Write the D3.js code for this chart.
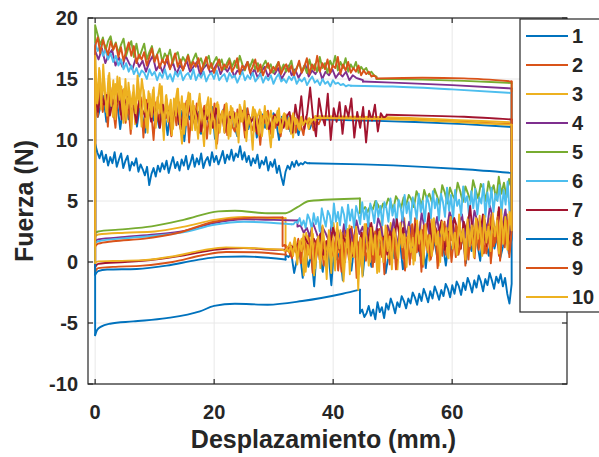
<!DOCTYPE html>
<html>
<head>
<meta charset="utf-8">
<script src="https://cdn.jsdelivr.net/npm/d3@7"></script>
<style>
html,body{margin:0;padding:0;background:#fff;}
svg{display:block;}
text{font-family:"Liberation Sans",Arial,Helvetica,sans-serif;font-weight:bold;fill:#262626;}
</style>
</head>
<body>
<svg id="chart" width="599" height="457"></svg>
<script>
// ---------------- DATA ----------------
const seriesNames = ["1","2","3","4","5","6","7","8","9","10"];
const seriesColors = ["#0072BD","#D95319","#EDB120","#7E2F8E","#77AC30","#4DBEEE","#A2142F","#0072BD","#D95319","#EDB120"];
const xTicks = [0,20,40,60];
const yTicks = [-10,-5,0,5,10,15,20];
const xLabel = "Desplazamiento (mm.)";
const yLabel = "Fuerza (N)";
const reversalX = 70;

// forward stroke, noisy part: samples from x=0 to upperNoiseEnd
const upperNoiseEnd = [37, 38, 37, 45, 47.3, 43, 49, 36, 47.3, 37];
const upperNoise = [
 [13.2,11.9,12.8,13.6,11.5,12.4,13.1,11.8,12.9,10.9,12.6,13.3,11.7,12.2,13.0,11.1,12.7,11.9,10.6,12.8,13.2,11.6,12.3,11.0,12.9,12.1,10.4,12.5,11.8,13.0,11.3,12.4,9.9,12.2,11.7,12.8,11.0,12.3,10.5,12.6,11.9,11.2,12.7,10.1,12.0,11.6,12.5,10.8,11.9,12.4,11.1,10.3,12.2,11.7,12.6,10.9,11.8,12.3,10.2,11.5,12.1,11.0,11.8,10.6,12.2,11.4,10.0,11.9,11.3,12.0,10.7,11.6,11.2,10.4,11.8,11.1,11.6,10.9,11.5,11.7],
 [13.6,11.9,14.7,12.3,13.9,11.1,14.3,12.7,11.0,13.8,12.1,14.1,11.4,13.0,10.5,13.6,11.8,12.9,13.5,10.2,13.3,12.0,12.5,10.0,13.1,11.5,12.8,10.7,13.4,11.9,10.3,12.7,11.2,13.1,10.9,12.3,13.2,9.8,12.6,11.5,13.0,10.6,12.0,12.8,10.1,12.4,11.3,13.0,9.7,12.1,11.6,12.9,10.4,12.3,11.1,10.7,12.5,11.5,12.0,10.2,12.6,11.3,10.8,12.2,11.7,9.6,12.0,11.4,12.4,10.5,11.9,11.0,12.3,10.3,11.7,12.1,10.9,11.5,12.0,10.6,11.8,11.2,10.4,11.9,11.4,11.7,10.8,11.6,11.3,11.8],
 [14.9,12.6,15.7,13.1,15.0,12.3,15.3,13.7,11.9,14.6,13.0,15.1,12.5,14.2,11.6,14.7,12.8,13.9,11.3,14.3,12.7,15.0,13.6,11.0,14.0,12.4,14.1,11.5,13.5,12.2,14.4,10.7,13.7,12.1,13.3,10.9,13.0,14.2,11.8,13.6,10.5,12.7,13.9,12.0,13.2,10.8,12.5,13.8,11.4,9.5,12.9,11.6,13.4,11.0,12.6,13.1,10.6,12.3,11.2,13.0,10.1,12.8,11.7,12.2,10.4,12.9,11.5,12.4,9.9,12.1,11.3,12.7,10.7,11.9,12.5,10.3,11.8,12.3,11.0,9.4,12.0,11.6,12.4,10.6,11.7,12.2,10.9,11.5,12.0,10.2,11.8,11.3,10.8,11.9,11.1,11.7,10.9,11.6,11.8,11.9],
 [17.3,16.6,17.5,16.3,17.0,17.4,16.1,16.8,16.0,16.9,16.3,15.8,16.7,16.0,16.5,15.6,16.4,16.9,15.7,16.2,15.5,16.6,15.9,16.3,15.4,16.1,15.8,16.5,15.6,16.0,16.4,15.3,15.9,16.2,15.5,15.8,16.3,15.4,16.0,15.6,16.1,15.2,15.7,15.5,15.9,16.4,15.3,15.8,15.1,15.6,16.0,15.2,15.7,15.4,15.9,15.0,15.5,16.1,15.3,15.8,15.1,15.6,16.2,15.2,15.7,15.4,15.9,15.0,15.6,15.3,15.8,15.1,15.5,15.2,15.6,14.9,15.3,15.1,15.0,14.9],
 [19.4,18.6,17.8,18.4,17.3,18.1,18.5,17.4,18.0,17.1,17.8,18.3,16.9,17.6,18.1,16.8,17.9,16.7,17.3,17.9,16.6,17.2,17.7,16.5,17.0,17.5,16.4,17.1,16.7,17.4,16.3,16.9,17.2,16.2,16.8,16.4,17.0,16.1,16.6,17.1,16.3,16.7,16.0,16.5,16.9,15.9,16.4,16.8,16.1,16.6,15.8,16.3,16.7,16.0,16.5,15.9,16.9,16.2,15.7,16.4,16.0,16.6,15.8,16.3,15.6,16.1,16.5,15.9,16.2,15.5,16.0,16.4,15.7,16.2,15.6,16.0,16.5,15.4,15.9,16.3,15.6,16.1,15.5,16.6,15.8,16.2,15.6,16.8,15.9,16.3,15.5,16.5,16.0,16.9,15.7,16.4,15.9,16.7,15.6,16.2,15.8,16.4,15.5,16.0,15.7,15.9,15.4,15.6,15.3,15.2],
 [17.9,17.3,17.7,16.9,17.4,16.6,17.1,16.4,16.9,16.1,16.6,15.8,16.3,15.6,16.1,15.4,15.9,15.2,15.7,15.5,15.0,15.8,15.3,15.6,14.9,15.5,15.1,15.8,15.0,15.4,14.8,15.6,15.2,15.7,14.9,15.3,15.5,15.0,15.8,14.9,15.4,15.1,15.6,14.8,15.3,15.5,15.0,15.7,14.9,15.2,15.4,14.8,15.5,15.1,15.3,14.7,15.2,15.6,14.9,15.3,15.0,15.5,14.8,15.1,15.4,14.7,15.2,14.9,15.3,14.6,15.1,15.4,14.8,15.0,14.7,15.2,14.9,15.3,14.6,15.0,14.8,15.1,14.5,14.9,15.2,14.7,14.9,14.5,15.0,14.6,14.8,14.4,14.9,14.6,14.7,14.5,14.6,14.4,14.5,14.45],
 [13.6,12.3,14.1,12.9,13.7,12.0,13.3,12.6,13.9,11.7,13.0,13.5,12.1,12.8,11.4,13.2,12.5,11.9,13.0,11.5,12.7,12.2,11.0,12.9,11.8,12.4,11.2,12.6,12.0,10.9,12.3,11.6,12.8,11.3,12.5,11.9,10.7,12.4,11.7,12.1,11.0,12.6,11.4,12.2,10.6,12.0,11.8,12.3,11.1,11.7,12.4,10.8,12.1,11.5,11.9,10.5,12.0,11.3,11.8,10.9,11.6,12.1,11.2,11.7,11.0,11.9,12.3,10.6,12.9,11.4,13.6,10.9,12.2,14.3,11.8,10.3,13.4,12.0,11.2,13.8,10.0,12.6,11.5,13.1,10.5,12.8,11.9,13.4,10.2,12.3,11.0,12.7,9.8,12.4,11.6,12.9,10.7,12.2,11.8,12.0],
 [9.7,9.0,8.5,9.1,8.2,8.8,7.9,8.6,8.1,9.0,7.8,8.4,8.9,7.7,8.3,8.7,7.5,8.2,7.9,8.5,7.4,8.0,7.6,7.1,7.8,6.3,7.2,7.7,7.0,7.9,7.4,8.1,7.6,8.3,7.3,8.0,8.6,7.7,8.2,7.5,8.4,7.9,8.7,7.6,8.1,8.8,7.8,8.5,8.0,8.9,7.7,8.3,8.6,7.9,9.0,8.2,8.7,8.0,8.5,9.1,8.1,8.8,8.4,9.2,8.3,8.9,8.6,9.5,8.4,9.0,8.2,8.7,7.9,8.5,8.1,8.8,7.7,8.3,8.0,8.6,7.5,8.2,7.8,8.4,7.3,7.9,7.0,6.3,7.4,7.9,7.6,8.2,7.8,8.3,7.9,8.1,8.0,8.2,8.1,8.1],
 [17.7,18.4,17.1,18.2,17.6,17.0,18.1,17.4,17.9,16.8,17.6,16.5,17.3,18.0,16.9,17.7,16.3,17.0,16.6,17.2,16.1,16.8,17.5,16.4,17.0,15.9,16.6,16.2,16.9,15.8,16.5,17.1,16.0,16.6,15.7,16.3,16.9,15.9,16.4,16.0,16.7,15.6,16.2,16.8,15.8,16.3,15.5,16.1,16.6,15.7,16.2,15.9,16.5,15.6,16.0,16.7,15.4,16.1,15.8,16.4,15.5,16.0,16.6,15.6,16.2,15.3,15.9,16.3,15.5,16.0,15.7,16.4,15.4,15.9,16.2,15.6,16.1,15.3,15.8,16.5,15.5,16.0,16.7,15.4,16.2,15.7,16.9,15.6,16.3,15.8,16.6,15.5,16.1,15.9,16.8,15.4,16.2,15.7,16.4,15.5,15.9,15.6,16.1,15.3,15.7,15.4,15.6,15.2,15.3,15.1],
 [16.9,13.0,15.9,12.5,16.2,13.6,12.0,15.5,12.8,14.9,11.7,15.2,13.3,14.4,11.4,15.0,12.6,14.0,10.9,14.5,12.2,15.3,13.7,11.1,14.1,12.9,10.6,13.8,11.9,14.3,11.0,13.2,14.6,12.4,10.0,13.6,11.5,12.9,10.4,13.4,12.0,14.2,11.3,9.7,13.0,11.2,12.5,13.8,10.8,12.8,11.7,10.1,13.1,12.3,11.0,12.6,13.5,10.5,12.1,11.6,9.3,12.9,11.4,12.4,10.6,13.0,11.8,10.3,12.6,11.1,12.2,9.8,12.7,11.5,13.2,10.7,12.0,11.3,9.2,12.5,11.9,10.4,12.3,11.0,12.8,10.9,11.7,12.4,10.2,11.9,11.4,12.6,10.6,11.5,12.1,11.0,11.8,10.5,12.2,11.3,11.7,10.9,11.9,11.2,11.6,11.4,11.8,11.5,11.7,11.6]
];

// forward stroke, smooth part: [x, y] knots up to the reversal
const upperSmooth = [
 [[37,11.7],[45,11.6],[55,11.45],[62,11.3],[70,11.07]],
 [[38,11.85],[50,11.75],[60,11.55],[70,11.3]],
 [[37,11.95],[50,11.85],[60,11.65],[70,11.45]],
 [[45,14.8],[50,14.7],[60,14.5],[70,14.22]],
 [[47.3,15.0],[55,14.95],[62,14.85],[70,14.67]],
 [[43,14.45],[50,14.38],[60,14.15],[70,13.85]],
 [[49,12.07],[55,12.0],[62,11.9],[70,11.68]],
 [[36,8.1],[45,8.0],[55,7.8],[62,7.6],[70,7.3]],
 [[47.3,15.05],[55,15.1],[62,15.05],[70,14.8]],
 [[37,11.8],[50,11.7],[60,11.5],[70,11.25]]
];

// return stroke, noisy part: samples from x=70 back to lowerNoiseStart
const lowerNoiseStart = [32, 32, 32, 34, 44.5, 33, 33, 44.5, 31.5, 31.5];
const lowerNoise = [
 [1.9,0.7,2.5,1.3,0.3,2.1,1.1,2.7,0.5,1.7,2.3,0.1,1.5,2.4,0.9,1.8,-0.1,2.0,1.2,0.6,2.2,1.0,1.6,-0.3,1.4,2.1,0.4,1.7,0.8,1.9,-0.5,1.3,0.5,1.8,0.2,1.5,2.0,0.7,-0.6,1.6,1.0,0.3,1.9,0.6,-0.9,1.2,1.6,0.0,1.4,-0.4,0.9,1.5,-1.1,1.0,0.4,1.3,-0.7,0.8,1.6,-1.5,0.9,0.2,1.2,-1.9,0.7,1.1,-0.8,0.5,1.3,-2.0,0.6,-0.4,1.0,-1.3,0.8,0.2,-0.9,0.7,0.4,0.6],
 [2.7,0.9,3.6,1.7,3.1,0.5,2.9,1.3,3.9,2.0,0.7,3.2,2.3,1.0,3.5,1.6,2.8,0.2,2.5,3.3,1.1,2.1,0.4,3.0,1.8,3.4,0.6,1.9,2.7,-0.1,2.3,1.4,3.1,0.8,2.0,-0.4,2.5,1.2,3.6,0.3,2.8,1.0,-0.7,1.9,2.6,0.5,1.6,3.0,-0.2,2.2,1.1,0.4,2.7,1.7,0.0,2.4,1.3,3.1,0.6,1.8,-0.5,2.3,1.0,2.9,0.2,1.5,2.6,-0.8,1.9,1.2,0.5,2.4,0.9,1.7,-0.3,2.1,1.4,0.3,1.8,1.0,2.2,0.6,1.5,-0.1,1.9,0.8,1.3,0.5,1.1,1.4],
 [3.0,0.8,3.9,1.6,3.3,0.5,4.1,1.9,2.7,0.3,3.6,1.4,3.0,0.7,3.8,2.1,1.0,3.2,1.7,3.7,0.2,2.8,1.5,3.4,0.6,2.5,1.9,4.0,0.4,2.3,1.2,3.1,-0.3,2.6,1.7,3.5,0.1,2.0,2.9,0.6,3.3,1.3,2.4,-0.2,3.0,1.8,0.9,3.6,1.1,2.2,-0.6,2.8,1.5,3.2,0.3,2.1,1.0,3.4,-0.8,2.5,1.4,2.9,0.0,1.8,3.1,0.5,2.3,-1.0,2.7,1.6,0.4,3.0,1.2,2.0,-0.4,2.6,0.8,1.9,3.2,-0.9,2.2,1.3,0.2,2.7,1.0,1.8,-0.5,2.3,0.7,1.5,2.4,-1.1,1.9,1.2,0.5,2.0,0.9,1.6,1.1,1.3],
 [3.7,2.2,4.3,2.9,4.0,1.9,3.5,4.6,2.6,3.8,1.7,3.3,4.2,2.3,3.6,2.0,3.9,2.8,1.5,3.4,4.1,2.4,3.1,1.6,3.7,2.5,1.3,3.2,2.7,4.0,1.8,2.9,1.2,3.3,2.1,3.8,2.6,1.4,3.5,2.2,3.0,1.1,2.8,3.6,1.9,2.5,3.2,1.6,2.9,2.3,3.4,1.5,2.7,2.0,3.1,1.3,2.6,2.2,3.0,1.8,2.4,2.9,1.7,2.5,3.2,2.1,2.8,2.4,3.0,2.9],
 [6.0,6.8,5.3,6.5,5.6,7.0,5.1,6.3,5.7,6.6,5.0,6.0,6.4,5.2,5.9,6.7,5.0,5.6,6.2,4.9,5.8,6.5,5.1,5.5,6.1,4.8,5.7,6.3,4.7,5.4,6.0,4.9,5.6,5.2,5.9,4.6,5.3,5.8,4.5,5.1,5.5,4.7,5.3,4.4,5.0,5.4,4.3,4.9,5.2,4.5,4.8,4.2,4.7,5.0,4.3,4.6,4.1,4.5,4.2,4.0],
 [5.5,4.0,6.6,4.7,5.9,3.9,6.3,5.0,5.6,4.1,6.1,4.5,5.7,3.7,6.4,4.8,5.3,3.9,6.0,4.4,5.8,3.6,5.4,4.9,6.2,3.8,5.1,4.6,5.9,3.5,5.5,4.2,6.1,3.7,4.9,5.6,3.4,5.2,4.4,5.8,3.6,4.8,5.4,3.3,5.0,4.1,5.6,3.5,4.6,5.3,3.2,4.9,4.0,5.5,3.4,4.5,5.1,3.1,4.7,3.8,5.2,3.3,4.4,4.9,3.0,4.6,3.7,5.0,3.2,4.2,4.8,2.9,4.4,3.5,4.9,3.1,4.0,4.6,2.8,4.3,3.4,4.7,2.7,3.9,4.5,3.0,4.1,3.3,4.8,2.6,3.8,4.2,2.9,3.6,4.4,2.5,3.7,3.1,4.0,2.7,3.5,3.9,2.8,3.4,3.0,3.6,3.2,3.3,3.1,3.1],
 [2.9,1.6,3.7,2.3,4.5,1.9,3.1,2.6,1.3,3.9,2.1,3.0,1.5,4.6,2.4,3.3,1.1,2.7,3.6,1.8,2.5,1.0,3.4,2.2,2.9,1.4,4.0,2.0,2.6,0.9,3.1,1.7,2.3,0.7,2.8,1.9,3.5,1.2,2.5,0.6,2.1,1.5,2.7,1.1,3.2,1.8,0.8,2.4,1.3,2.0,0.5,2.6,1.6,2.2,1.0,1.9,2.8,1.2,1.7,0.6,2.3,1.4,1.9,0.9,1.6,2.1,1.2,1.5,1.1,1.3],
 [-1.8,-3.4,-2.6,-1.3,-2.0,-1.0,-1.7,-1.2,-2.2,-1.5,-0.9,-1.9,-1.4,-2.4,-1.6,-1.1,-2.1,-1.5,-2.5,-1.8,-1.3,-2.3,-1.7,-2.7,-2.0,-1.6,-2.6,-1.9,-2.9,-2.2,-1.8,-2.8,-2.3,-3.1,-2.5,-2.0,-3.0,-2.4,-3.3,-2.7,-2.2,-3.2,-2.6,-3.5,-2.9,-2.5,-3.4,-3.0,-3.8,-3.2,-2.8,-3.7,-3.3,-4.2,-3.5,-3.0,-3.9,-3.4,-4.6,-3.7,-4.1,-3.3,-4.7,-3.9,-4.4,-3.6,-4.2,-4.5,-3.9,-4.2],
 [2.5,0.4,3.4,1.2,2.9,0.1,3.7,1.6,2.3,-0.1,3.1,1.9,0.7,2.8,1.4,3.5,0.3,2.1,1.1,3.2,-0.3,2.6,1.5,0.6,3.0,1.8,0.0,2.4,1.3,3.3,0.5,2.0,-0.5,2.7,1.1,0.2,2.2,1.6,3.0,-0.8,2.5,0.8,1.7,3.1,-0.2,2.1,1.0,0.3,2.6,1.4,-0.6,2.3,0.9,1.8,2.8,-1.0,2.0,0.6,1.5,2.5,-0.4,1.9,1.2,0.1,2.4,0.8,1.6,-1.3,2.2,0.7,1.3,2.6,0.0,1.8,1.0,-0.7,2.1,0.5,1.4,2.3,-0.3,1.7,0.9,0.2,1.9,1.1,-0.9,1.6,0.6,1.3,2.0,0.4,1.5,0.8,1.1,0.3,1.2,0.9,1.4,1.3],
 [2.6,4.1,1.0,3.7,1.5,4.3,0.7,3.4,2.1,4.0,0.9,2.9,1.6,3.8,0.5,3.2,1.9,3.6,0.4,3.0,1.3,3.5,0.2,2.7,1.7,3.9,0.6,2.4,1.1,3.7,0.3,2.8,1.8,3.3,0.0,2.5,1.4,3.6,0.5,2.2,1.0,3.1,-0.2,2.6,1.5,3.4,0.1,2.0,0.8,2.9,-0.4,2.3,1.2,3.2,0.3,1.9,2.7,-0.6,2.1,0.9,3.0,0.0,1.7,2.5,-0.9,2.2,0.6,2.8,-0.3,1.8,3.1,-1.2,2.0,-2.3,2.9,0.4,1.6,-1.0,2.7,0.8,-1.6,2.4,1.1,3.2,-0.7,1.9,0.2,2.6,-1.4,1.5,3.0,-0.5,2.1,0.7,-1.1,2.8,0.3,1.4,-0.8,2.3,0.9,1.7,-0.2,1.9,0.5,1.3,0.8,1.1,0.9,1.0]
];

// return stroke, smooth part: [x, y] knots from x=0 to lowerNoiseStart
const lowerSmooth = [
 [[0,-1.05],[0.5,-0.75],[2,-0.62],[7,-0.57],[12,-0.3],[17,0.15],[21,0.42],[25,0.45],[32,0.2]],
 [[0,-0.77],[0.5,-0.5],[3,-0.4],[8,-0.3],[13,0.0],[18,0.55],[22,0.82],[27,0.8],[32,0.6]],
 [[0,2.1],[0.5,2.25],[5,2.4],[10,2.5],[15,2.9],[20,3.45],[25,3.7],[30,3.6],[32,3.6]],
 [[0,1.69],[0.5,1.85],[5,2.05],[10,2.25],[15,2.55],[20,3.2],[25,3.5],[30,3.45],[34,3.4]],
 [[0,2.38],[0.5,2.5],[3.9,2.65],[9.5,2.92],[15,3.47],[20.7,4.15],[23.5,4.2],[29,4.0],[32,4.0],[34,4.5],[36,5.0],[44.5,5.2]],
 [[0,1.55],[0.5,1.7],[5,1.95],[10,2.15],[15,2.45],[20,3.05],[25,3.3],[30,3.2],[33,3.1]],
 [[0,-0.4],[0.5,-0.15],[5,0.0],[10,0.2],[15,0.55],[20,1.0],[25,1.15],[30,1.0],[33,1.0]],
 [[0,-6.0],[0.3,-5.6],[1,-5.3],[2.5,-5.06],[6.4,-4.87],[12,-4.6],[17.6,-4.05],[20,-3.6],[23.5,-3.42],[29,-3.5],[34.8,-3.2],[38,-2.95],[41.6,-2.6],[44.5,-2.27]],
 [[0,1.28],[0.5,1.5],[3,1.7],[8,1.9],[14,2.4],[20,3.3],[25,3.6],[30,3.66],[31.5,3.66]],
 [[0,-0.08],[0.5,0.05],[3,0.08],[8,0.15],[13,0.45],[18,0.95],[22,1.2],[26,1.15],[31.5,1.0]]
];

// ---------------- CHART ----------------
const svg = d3.select("#chart");
const plot = {left:88, right:567, top:18, bottom:384};
const x = d3.scaleLinear().domain([-1.2, 79.3]).range([plot.left, plot.right]);
const y = d3.scaleLinear().domain([-10, 20]).range([plot.bottom, plot.top]);
const axisColor = "#262626";

svg.append("rect").attr("x",0).attr("y",0).attr("width",599).attr("height",457).attr("fill","#fff");

svg.append("defs").append("clipPath").attr("id","clip")
  .append("rect").attr("x",plot.left).attr("y",plot.top)
  .attr("width",plot.right-plot.left).attr("height",plot.bottom-plot.top);

// grid
const grid = svg.append("g").attr("stroke","#e8e8e8").attr("stroke-width",1);
xTicks.forEach(t => grid.append("line").attr("x1",x(t)).attr("x2",x(t)).attr("y1",plot.top).attr("y2",plot.bottom));
yTicks.forEach(t => grid.append("line").attr("x1",plot.left).attr("x2",plot.right).attr("y1",y(t)).attr("y2",y(t)));

// lines
const lin = d3.line().x(d=>x(d[0])).y(d=>y(d[1])).curve(d3.curveLinear);
const smooth = d3.line().x(d=>x(d[0])).y(d=>y(d[1])).curve(d3.curveMonotoneX);
const lines = svg.append("g").attr("clip-path","url(#clip)")
  .attr("fill","none").attr("stroke-width",1.9).attr("stroke-linejoin","round").attr("stroke-linecap","round");

seriesNames.forEach((name,i) => {
  const g = lines.append("g").attr("stroke", seriesColors[i]);
  const un = upperNoise[i], n1 = un.length, xe = upperNoiseEnd[i];
  const upPts = un.map((v,k)=>[xe*k/(n1-1), v]);
  const us = upperSmooth[i];
  const ls = lowerSmooth[i];
  const ln = lowerNoise[i], n2 = ln.length, xs = lowerNoiseStart[i];
  const lowPts = ln.map((v,k)=>[reversalX - (reversalX-xs)*k/(n2-1), v]);
  // vertical at x=0 + forward noisy stroke
  g.append("path").attr("d", lin([ls[0]].concat(upPts, [us[0]])));
  g.append("path").attr("d", smooth(us));
  // vertical at reversal + return noisy stroke
  g.append("path").attr("d", lin([us[us.length-1]].concat(lowPts, [ls[ls.length-1]])));
  g.append("path").attr("d", smooth(ls));
});

// axes box
const box = svg.append("g").attr("stroke",axisColor).attr("stroke-width",1.2).attr("fill","none");
box.append("rect").attr("x",plot.left).attr("y",plot.top).attr("width",plot.right-plot.left).attr("height",plot.bottom-plot.top);
const tl = 5;
xTicks.forEach(t => {
  box.append("line").attr("x1",x(t)).attr("x2",x(t)).attr("y1",plot.bottom).attr("y2",plot.bottom-tl);
  box.append("line").attr("x1",x(t)).attr("x2",x(t)).attr("y1",plot.top).attr("y2",plot.top+tl);
});
yTicks.forEach(t => {
  box.append("line").attr("x1",plot.left).attr("x2",plot.left+tl).attr("y1",y(t)).attr("y2",y(t));
  box.append("line").attr("x1",plot.right).attr("x2",plot.right-tl).attr("y1",y(t)).attr("y2",y(t));
});

// tick labels
svg.append("g").selectAll("text").data(xTicks).join("text")
  .attr("x",d=>x(d)).attr("y",419).attr("text-anchor","middle").attr("font-size",20).text(d=>d);
svg.append("g").selectAll("text").data(yTicks).join("text")
  .attr("x",78).attr("y",d=>y(d)).attr("dy","0.36em").attr("text-anchor","end").attr("font-size",20).text(d=>d);

// axis labels
svg.append("text").attr("x",(plot.left+plot.right)/2-4).attr("y",448).attr("text-anchor","middle")
  .attr("font-size",25).text(xLabel);
svg.append("text").attr("transform",`translate(33,${(plot.top+plot.bottom)/2}) rotate(-90)`)
  .attr("text-anchor","middle").attr("font-size",25).text(yLabel);

// legend
const lg = svg.append("g");
lg.append("rect").attr("x",520).attr("y",19).attr("width",84).attr("height",293)
  .attr("fill","#fff").attr("stroke",axisColor).attr("stroke-width",1.2);
seriesNames.forEach((name,i) => {
  const yy = 36 + i*29.0;
  lg.append("line").attr("x1",526).attr("x2",568).attr("y1",yy).attr("y2",yy)
    .attr("stroke",seriesColors[i]).attr("stroke-width",2);
  lg.append("text").attr("x",572).attr("y",yy).attr("dy","0.36em").attr("font-size",20).text(name);
});
</script>
</body>
</html>
